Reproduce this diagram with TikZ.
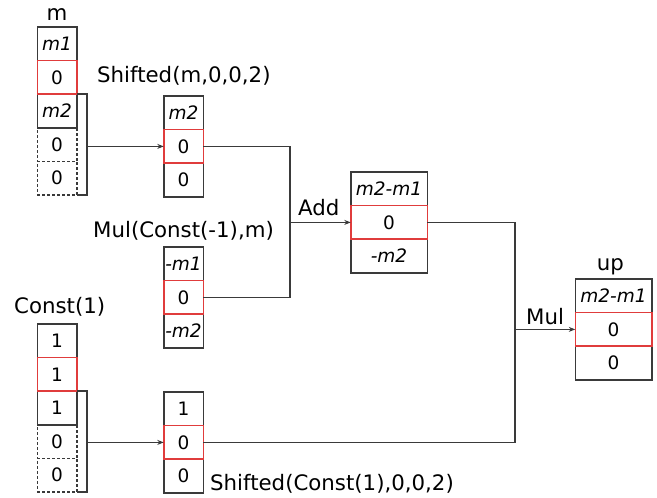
\documentclass[tikz,border=0pt]{standalone}
\usepackage{fontspec}
\setmainfont{DejaVu Sans}
\usetikzlibrary{arrows.meta}
\definecolor{ink}{HTML}{3A3A3A}
\definecolor{hl}{HTML}{E03C3C}
\tikzset{
  cell/.style={draw=ink, line width=1.5pt, inner sep=0pt, outer sep=0pt,
    minimum height=33.6pt, anchor=north, text=black,
    font=\fontsize{18.5}{20}\selectfont},
  narrow/.style={cell, minimum width=39.5pt},
  wide/.style={cell, minimum width=76.5pt},
  hot/.style={draw=hl},
  ghost/.style={dash pattern=on 3pt off 2pt},
  lbl/.style={inner sep=0pt, text=black, font=\fontsize{21.3}{24}\selectfont},
  wire/.style={draw=ink, line width=1.5pt},
  arr/.style={wire, -{Stealth[length=6.5pt,width=5pt]}},
}
\begin{document}
\begin{tikzpicture}[x=1pt,y=-1pt]
\useasboundingbox (0,0) rectangle (657,498);

% ---- vector m ----
\node[narrow] (ma) at (57,27)    {\textit{m1}};
\node[narrow] (mc) at (57,94.2)  {\textit{m2}};
\node[narrow,ghost] (md) at (57,127.8) {0};
\node[narrow,ghost] (me) at (57,161.4) {0};
\node[narrow,hot] (mb) at (57,60.6) {0};
\node[lbl, anchor=base] (ml) at (57,20) {m};

% ---- Shifted(m,0,0,2) ----
\node[narrow] (sma) at (183.5,96)    {\textit{m2}};
\node[narrow] (smc) at (183.5,163.2) {0};
\node[narrow,hot] (smb) at (183.5,129.6) {0};
\node[lbl, anchor=base west] (sml) at (97,82) {Shifted(m,0,0,2)};

% ---- Mul(Const(-1),m) ----
\node[narrow] (mua) at (183.5,247)   {\textit{-m1}};
\node[narrow] (muc) at (183.5,314.2) {\textit{-m2}};
\node[narrow,hot] (mub) at (183.5,280.6) {0};
\node[lbl, anchor=base west] (mul) at (93,237) {Mul(Const(-1),m)};

% ---- sum ----
\node[wide] (ada) at (389,172)   {\textit{m2-m1}};
\node[wide] (adc) at (389,239.2) {\textit{-m2}};
\node[wide,hot] (adb) at (389,205.6) {0};

% ---- Const(1) ----
\node[narrow] (ca) at (57,324)   {1};
\node[narrow] (cc) at (57,391.2) {1};
\node[narrow,ghost] (cd) at (57,424.8) {0};
\node[narrow,ghost] (ce) at (57,458.4) {0};
\node[narrow,hot] (cb) at (57,357.6) {1};
\node[lbl, anchor=base west] (cl) at (14,313) {Const(1)};

% ---- Shifted(Const(1),0,0,2) ----
\node[narrow] (sca) at (183.5,392)   {1};
\node[narrow] (scc) at (183.5,459.2) {0};
\node[narrow,hot] (scb) at (183.5,425.6) {0};
\node[lbl, anchor=base west] (scl) at (210,490) {Shifted(Const(1),0,0,2)};

% ---- result up ----
\node[wide] (upa) at (613.5,279)   {\textit{m2-m1}};
\node[wide] (upc) at (613.5,346.2) {0};
\node[wide,hot] (upb) at (613.5,312.6) {0};
\node[lbl, anchor=base] (upl) at (610.5,270) {up};

% ---- brackets marking the shifted window ----
\draw[wire] (mc.north east) -- ++(10,0) coordinate (bm) |- (me.south east);
\draw[wire] (cc.north east) -- ++(10,0) coordinate (bc) |- (ce.south east);
\draw[arr] (bm |- smb.west) -- (smb.west);
\draw[arr] (bc |- scb.west) -- (scb.west);

% ---- Add ----
\coordinate (j1) at (290,0);
\draw[wire] (smb.east) -- (j1 |- smb.east) -- (j1 |- mub.east) -- (mub.east);
\draw[arr] (j1 |- adb.west) -- (adb.west);
\node[lbl, anchor=base west] (addl) at (298,215) {Add};

% ---- Mul ----
\coordinate (j2) at (515,0);
\draw[wire] (adb.east) -- (j2 |- adb.east) -- (j2 |- scb.east) -- (scb.east);
\draw[arr] (j2 |- upb.west) -- (upb.west);
\node[lbl, anchor=base west] (mull) at (526,324) {Mul};
\end{tikzpicture}
\end{document}
